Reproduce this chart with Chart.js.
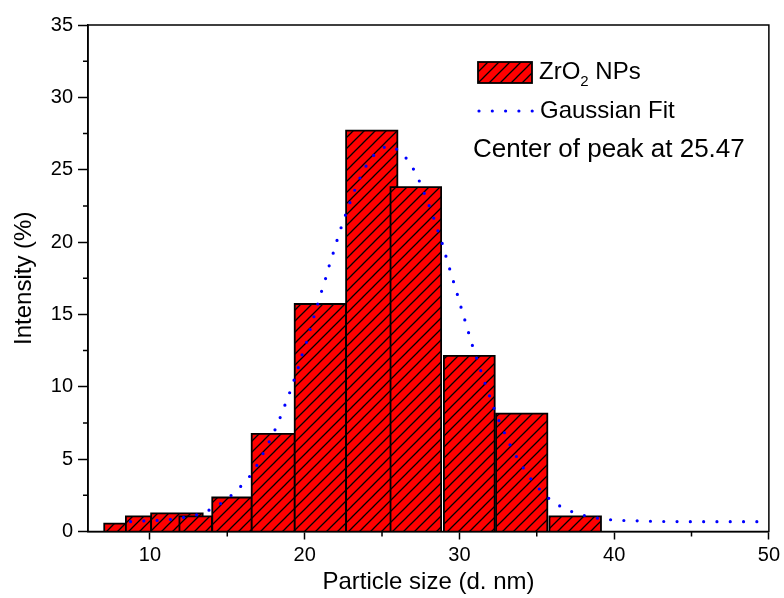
<!DOCTYPE html>
<html>
<head>
<meta charset="utf-8">
<script src="https://cdn.jsdelivr.net/npm/chart.js@4.4.0/dist/chart.umd.min.js"></script>
<style>
  html, body { margin: 0; padding: 0; background: #fff; }
  canvas { display: block; }
</style>
</head>
<body>
<canvas id="sizeChart" width="784" height="598"></canvas>
<script>
// histogram bins (d. nm) and intensity (%)
const binLeft = [7.05, 8.45, 10.08, 11.91, 14.03, 16.58, 19.36, 22.68, 25.55, 29.0, 32.37, 35.82];
const binRight = [8.45, 10.08, 13.41, 14.01, 16.58, 19.36, 22.68, 25.99, 28.82, 32.28, 35.68, 39.15];
const intensity = [0.55, 1.05, 1.25, 1.05, 2.35, 6.74, 15.72, 27.7, 23.79, 12.13, 8.14, 1.05];

// gaussian fit
const fitX = [8.75, 9.65, 10.51, 11.37, 12.23, 13.09, 13.95, 14.81, 15.66, 16.42, 17.0, 17.43, 17.88,
  18.28, 18.61, 18.95, 19.25, 19.55, 19.81, 20.11, 20.36, 20.62, 20.88, 21.14, 21.42, 21.65, 21.94,
  22.19, 22.49, 22.79, 23.11, 23.46, 23.87, 24.47, 25.26, 26.12, 26.77, 27.26, 27.62, 27.96, 28.29,
  28.57, 28.87, 29.12, 29.38, 29.64, 29.9, 30.15, 30.41, 30.67, 30.93, 31.23, 31.51, 31.81, 32.13,
  32.45, 32.84, 33.23, 33.7, 34.24, 34.86, 35.68, 36.56, 37.41, 38.27, 39.13, 39.99, 40.85, 41.71,
  42.57, 44.29, 46.0, 47.72, 49.48, 50];
const fitY = [0.68, 0.73, 0.77, 0.84, 0.98, 1.16, 1.53, 2.09, 2.87, 3.77, 4.71, 5.63, 6.55,
  7.48, 8.42, 9.34, 10.26, 11.18, 12.13, 13.05, 13.97, 14.91, 15.84, 16.76, 17.7, 18.62, 19.54,
  20.49, 21.41, 22.33, 23.25, 24.17, 25.1, 26.0, 26.64, 26.36, 25.53, 24.61, 23.67, 22.75, 21.82,
  20.9, 19.98, 19.06, 18.12, 17.19, 16.27, 15.33, 14.41, 13.46, 12.54, 11.62, 10.68, 9.78, 8.83,
  7.91, 6.99, 6.07, 5.15, 4.2, 3.28, 2.36, 1.71, 1.3, 1.05, 0.88, 0.79, 0.75, 0.73,
  0.7, 0.68, 0.68, 0.68, 0.68, 0.68];

const xTicks = [10, 20, 30, 40, 50];
const xMinor = [15, 25, 35, 45];
const yTicks = [0, 5, 10, 15, 20, 25, 30, 35];
const yMinor = [2.5, 7.5, 12.5, 17.5, 22.5, 27.5, 32.5];

const FONT = 'Arial, "Liberation Sans", sans-serif';
const canvas = document.getElementById("sizeChart");
const ctx = canvas.getContext("2d");

function makeHatch() {
  const s = 11;
  const tile = document.createElement("canvas");
  tile.width = s;
  tile.height = s;
  const g = tile.getContext("2d");
  g.fillStyle = "#ff0000";
  g.fillRect(0, 0, s, s);
  g.strokeStyle = "#000";
  g.lineWidth = 1.3;
  g.beginPath();
  g.moveTo(0, s); g.lineTo(s, 0);
  g.moveTo(-1, 1); g.lineTo(1, -1);
  g.moveTo(s - 1, s + 1); g.lineTo(s + 1, s - 1);
  g.stroke();
  return ctx.createPattern(tile, "repeat");
}
const hatch = makeHatch();

const barSets = intensity.map((h, i) => ({
  label: "ZrO2 NPs",
  data: [
    { x: binLeft[i], y: 0 },
    { x: binLeft[i], y: h },
    { x: binRight[i], y: h },
    { x: binRight[i], y: 0 },
  ],
  fill: "origin",
  backgroundColor: hatch,
  borderColor: "#000",
  borderWidth: 1.8,
  pointRadius: 0,
  tension: 0,
  order: 100 - i,
}));

const fitSet = {
  label: "Gaussian Fit",
  data: fitX.map((x, i) => ({ x: x, y: fitY[i] })),
  borderColor: "#0000ff",
  borderWidth: 3.2,
  borderDash: [0, 13.3],
  borderCapStyle: "round",
  fill: false,
  pointRadius: 0,
  tension: 0,
  order: 0,
};

// frame, minor ticks, legend and note
const overlay = {
  id: "overlay",
  afterDraw(chart) {
    const c = chart.ctx;
    const a = chart.chartArea;
    const xs = chart.scales.x;
    const ys = chart.scales.y;
    c.save();
    c.strokeStyle = "#000";
    c.lineWidth = 1.5;
    c.strokeRect(a.left, a.top, a.right - a.left, a.bottom - a.top);

    c.beginPath();
    xMinor.forEach((v) => {
      const px = xs.getPixelForValue(v);
      c.moveTo(px, a.bottom);
      c.lineTo(px, a.bottom + 5);
    });
    yMinor.forEach((v) => {
      const py = ys.getPixelForValue(v);
      c.moveTo(a.left - 5, py);
      c.lineTo(a.left, py);
    });
    c.stroke();

    // legend: hatched box
    c.fillStyle = hatch;
    c.fillRect(478, 62, 54, 21);
    c.lineWidth = 1.8;
    c.strokeRect(478, 62, 54, 21);

    c.fillStyle = "#000";
    c.textBaseline = "alphabetic";
    c.textAlign = "left";
    c.font = "24px " + FONT;
    c.fillText("ZrO", 539, 79);
    let w = c.measureText("ZrO").width;
    c.font = "15px " + FONT;
    c.fillText("2", 539 + w, 86);
    w += c.measureText("2").width;
    c.font = "24px " + FONT;
    c.fillText(" NPs", 539 + w, 79);

    // legend: dotted line
    c.strokeStyle = "#0000ff";
    c.lineWidth = 3.2;
    c.lineCap = "round";
    c.setLineDash([0, 13.3]);
    c.beginPath();
    c.moveTo(479, 111);
    c.lineTo(533, 111);
    c.stroke();
    c.setLineDash([]);

    c.fillStyle = "#000";
    c.font = "24px " + FONT;
    c.fillText("Gaussian Fit", 540, 118);

    c.font = "26px " + FONT;
    c.fillText("Center of peak at 25.47", 473, 157);
    c.restore();
  },
};

new Chart(ctx, {
  type: "line",
  data: { datasets: barSets.concat([fitSet]) },
  options: {
    responsive: false,
    animation: false,
    events: [],
    layout: { padding: { top: 25, right: 13, left: 0, bottom: 0 } },
    plugins: { legend: { display: false }, tooltip: { enabled: false } },
    scales: {
      x: {
        type: "linear",
        min: 6,
        max: 50,
        afterFit: (s) => { s.height = 66.5; },
        afterBuildTicks: (s) => { s.ticks = xTicks.map((v) => ({ value: v })); },
        grid: { drawOnChartArea: false, drawTicks: true, tickLength: 8, tickColor: "#000", tickWidth: 1.5 },
        border: { display: true, color: "#000", width: 1.5 },
        ticks: { color: "#000", padding: 4, maxRotation: 0, font: { family: FONT, size: 20 } },
        title: {
          display: true,
          text: "Particle size (d. nm)",
          color: "#000",
          padding: { top: 0, bottom: 1 },
          font: { family: FONT, size: 24 },
        },
      },
      y: {
        type: "linear",
        min: 0,
        max: 35,
        afterFit: (s) => { s.width = 88; },
        afterBuildTicks: (s) => { s.ticks = yTicks.map((v) => ({ value: v })); },
        grid: { drawOnChartArea: false, drawTicks: true, tickLength: 10, tickColor: "#000", tickWidth: 1.5 },
        border: { display: true, color: "#000", width: 1.5 },
        ticks: { color: "#000", padding: 5, font: { family: FONT, size: 20 } },
        title: {
          display: true,
          text: "Intensity (%)",
          color: "#000",
          padding: { top: 10, bottom: 0 },
          font: { family: FONT, size: 24 },
        },
      },
    },
  },
  plugins: [overlay],
});
</script>
</body>
</html>
